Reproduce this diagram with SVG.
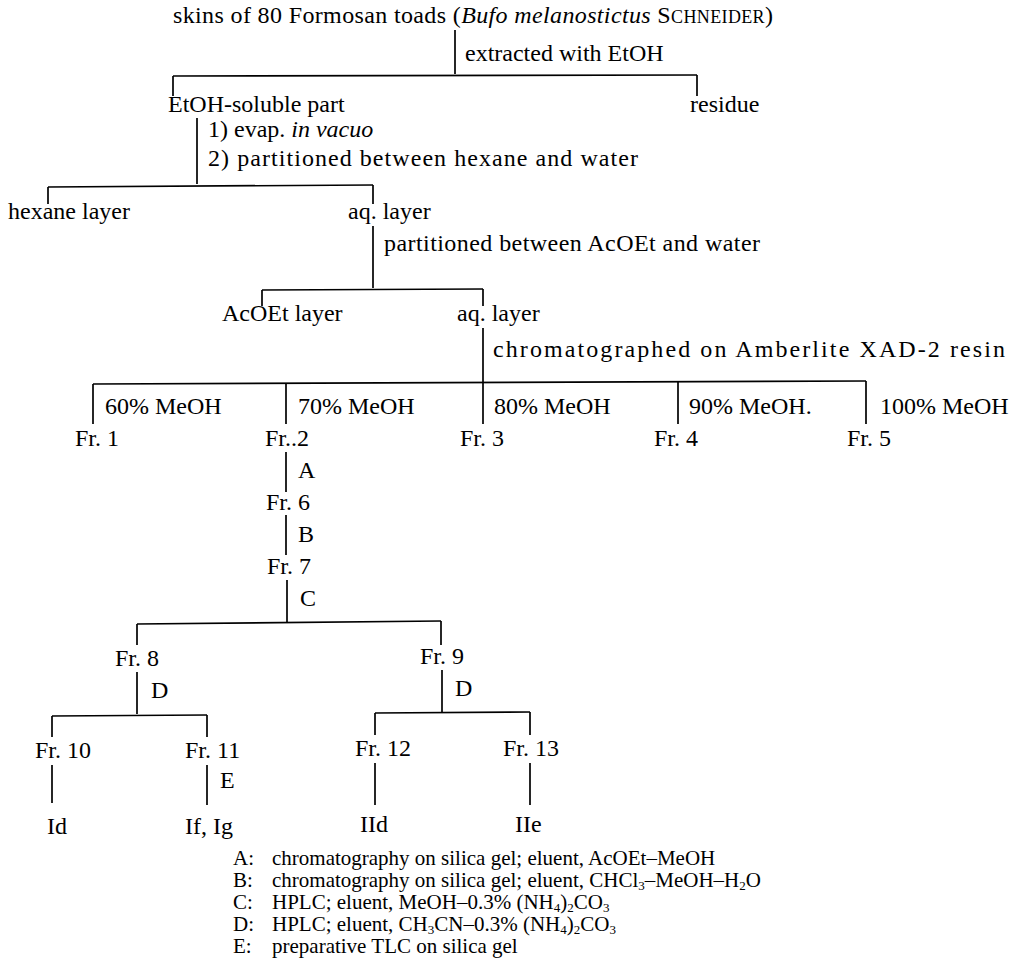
<svg xmlns="http://www.w3.org/2000/svg" width="1014" height="963" viewBox="0 0 1014 963">
<style>
text{font-family:"Liberation Serif","Times New Roman",serif;font-size:24px;fill:#000}
.lg{font-size:21px}
.sub{font-size:13px}
.sc{font-size:18px}
#connectors line{stroke:#000;stroke-width:1.7}
</style>
<rect width="1014" height="963" fill="#fff"/>
<g id="connectors">
<line x1="455" y1="30" x2="455" y2="74"/>
<line x1="173" y1="76" x2="697" y2="75"/>
<line x1="173" y1="76" x2="173" y2="96"/>
<line x1="697" y1="75" x2="697" y2="96"/>
<line x1="197" y1="118" x2="197" y2="184"/>
<line x1="48" y1="187" x2="373" y2="185"/>
<line x1="48" y1="187" x2="48" y2="204"/>
<line x1="373" y1="185" x2="373" y2="204"/>
<line x1="373" y1="226" x2="373" y2="288"/>
<line x1="262" y1="290" x2="483" y2="289"/>
<line x1="262" y1="290" x2="262" y2="306"/>
<line x1="483" y1="289" x2="483" y2="306"/>
<line x1="483" y1="328" x2="483" y2="383"/>
<line x1="93" y1="384" x2="866" y2="381"/>
<line x1="93" y1="384" x2="93" y2="424"/>
<line x1="286" y1="384" x2="286" y2="424"/>
<line x1="483" y1="383" x2="483" y2="424"/>
<line x1="678" y1="382" x2="678" y2="424"/>
<line x1="866" y1="381" x2="866" y2="424"/>
<line x1="286" y1="452" x2="286" y2="492"/>
<line x1="286" y1="515" x2="286" y2="555"/>
<line x1="287" y1="580" x2="287" y2="622"/>
<line x1="137" y1="624" x2="441" y2="621"/>
<line x1="137" y1="624" x2="137" y2="645"/>
<line x1="441" y1="621" x2="441" y2="645"/>
<line x1="137" y1="672" x2="137" y2="714"/>
<line x1="442" y1="670" x2="442" y2="712"/>
<line x1="52" y1="716" x2="207" y2="715"/>
<line x1="52" y1="716" x2="52" y2="737"/>
<line x1="207" y1="715" x2="207" y2="737"/>
<line x1="375" y1="713" x2="530" y2="712"/>
<line x1="375" y1="713" x2="375" y2="735"/>
<line x1="530" y1="712" x2="530" y2="735"/>
<line x1="52" y1="765" x2="52" y2="803"/>
<line x1="207" y1="765" x2="207" y2="805"/>
<line x1="375" y1="763" x2="375" y2="805"/>
<line x1="530" y1="763" x2="530" y2="805"/>
</g>
<g id="n-skins"><text x="173" y="23" textLength="600" lengthAdjust="spacing">skins of 80 Formosan toads (<tspan font-style="italic">Bufo melanostictus</tspan> S<tspan class="sc">CHNEIDER</tspan>)</text></g>
<g id="l-extract"><text x="465" y="61">extracted with EtOH</text></g>
<g id="n-etoh"><text x="168" y="112">EtOH-soluble part</text></g>
<g id="n-residue"><text x="690" y="112">residue</text></g>
<g id="l-evap"><text x="208" y="137">1) evap. <tspan font-style="italic">in vacuo</tspan></text>
<text x="208" y="166" textLength="430" lengthAdjust="spacing">2) partitioned between hexane and water</text></g>
<g id="n-hexane"><text x="8" y="219">hexane layer</text></g>
<g id="n-aq1"><text x="348" y="219">aq. layer</text></g>
<g id="l-part2"><text x="384" y="251" textLength="376" lengthAdjust="spacing">partitioned between AcOEt and water</text></g>
<g id="n-acoet"><text x="222" y="321">AcOEt layer</text></g>
<g id="n-aq2"><text x="457" y="321">aq. layer</text></g>
<g id="l-chrom"><text x="493" y="357" textLength="512" lengthAdjust="spacing">chromatographed on Amberlite XAD-2 resin</text></g>
<g id="l-meoh">
<text x="105" y="414">60% MeOH</text>
<text x="298" y="414">70% MeOH</text>
<text x="494" y="414">80% MeOH</text>
<text x="689" y="414">90% MeOH.</text>
<text x="880" y="414">100% MeOH</text>
</g>
<g id="n-fr1"><text x="75" y="446">Fr. 1</text></g>
<g id="n-fr2"><text x="265" y="446">Fr..2</text></g>
<g id="n-fr3"><text x="460" y="446">Fr. 3</text></g>
<g id="n-fr4"><text x="654" y="446">Fr. 4</text></g>
<g id="n-fr5"><text x="847" y="446">Fr. 5</text></g>
<g id="l-A"><text x="298" y="478">A</text></g>
<g id="n-fr6"><text x="266" y="510">Fr. 6</text></g>
<g id="l-B"><text x="298" y="542">B</text></g>
<g id="n-fr7"><text x="267" y="574">Fr. 7</text></g>
<g id="l-C"><text x="300" y="606">C</text></g>
<g id="n-fr8"><text x="115" y="666">Fr. 8</text></g>
<g id="n-fr9"><text x="420" y="664">Fr. 9</text></g>
<g id="l-D1"><text x="151" y="698">D</text></g>
<g id="l-D2"><text x="455" y="696">D</text></g>
<g id="n-fr10"><text x="35" y="758">Fr. 10</text></g>
<g id="n-fr11"><text x="185" y="758">Fr. 11</text></g>
<g id="n-fr12"><text x="355" y="756">Fr. 12</text></g>
<g id="n-fr13"><text x="503" y="756">Fr. 13</text></g>
<g id="l-E"><text x="220" y="788">E</text></g>
<g id="n-id"><text x="47" y="834">Id</text></g>
<g id="n-ifig"><text x="185" y="834">If, Ig</text></g>
<g id="n-iid"><text x="360" y="832">IId</text></g>
<g id="n-iie"><text x="515" y="832">IIe</text></g>
<g id="legend">
<text class="lg"><tspan x="233" y="865">A:</tspan><tspan x="272" y="865">chromatography on silica gel; eluent, AcOEt–MeOH</tspan><tspan x="233" y="887">B:</tspan><tspan x="272" y="887">chromatography on silica gel; eluent, CHCl</tspan><tspan class="sub" dy="3">3</tspan><tspan dy="-3">–MeOH–H</tspan><tspan class="sub" dy="3">2</tspan><tspan dy="-3">O</tspan><tspan x="233" y="909">C:</tspan><tspan x="272" y="909">HPLC; eluent, MeOH–0.3% (NH</tspan><tspan class="sub" dy="3">4</tspan><tspan dy="-3">)</tspan><tspan class="sub" dy="3">2</tspan><tspan dy="-3">CO</tspan><tspan class="sub" dy="3">3</tspan><tspan x="233" y="931">D:</tspan><tspan x="272" y="931">HPLC; eluent, CH</tspan><tspan class="sub" dy="3">3</tspan><tspan dy="-3">CN–0.3% (NH</tspan><tspan class="sub" dy="3">4</tspan><tspan dy="-3">)</tspan><tspan class="sub" dy="3">2</tspan><tspan dy="-3">CO</tspan><tspan class="sub" dy="3">3</tspan><tspan x="233" y="953">E:</tspan><tspan x="272" y="953">preparative TLC on silica gel</tspan></text>
</g>
</svg>
